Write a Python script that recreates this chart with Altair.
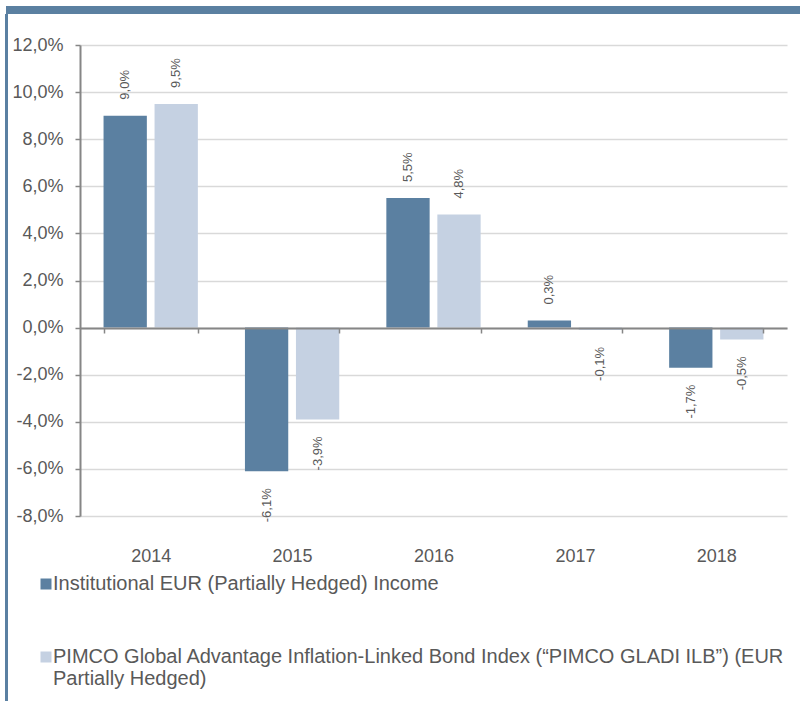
import altair as alt
import pandas as pd

years = ["2014", "2015", "2016", "2017", "2018"]
fund = [9.0, -6.1, 5.5, 0.3, -1.7]
bench = [9.5, -3.9, 4.8, -0.1, -0.5]
s1 = "Institutional EUR (Partially Hedged) Income"
s2 = "PIMCO Global Advantage Inflation-Linked Bond Index (\u201cPIMCO GLADI ILB\u201d) (EUR Partially Hedged)"
s2_line1 = "PIMCO Global Advantage Inflation-Linked Bond Index (\u201cPIMCO GLADI ILB\u201d) (EUR"
s2_line2 = "Partially Hedged)"

rows = []
for y, a, b in zip(years, fund, bench):
    rows.append({"year": y, "series": s1, "value": a})
    rows.append({"year": y, "series": s2, "value": b})
df = pd.DataFrame(rows)

FONT = "Liberation Sans"
GREY = "#595959"
AXIS = "#868686"
DARK = "#5B80A1"
LIGHT = "#C5D1E2"

lab_expr = "(datum.value < 0 ? '-' : '') + replace(format(abs(datum.value), '.1f'), '.', ',') + '%'"

base = alt.Chart(df)

x_enc = alt.X(
    "year:N",
    sort=years,
    scale=alt.Scale(paddingInner=0.333, paddingOuter=0.1665),
    axis=alt.Axis(
        title=None, orient="bottom", offset=-188, domainColor=AXIS, domainWidth=2,
        tickColor=AXIS, tickWidth=1.5, tickSize=5, tickBand="extent",
        labelPadding=214, labelFont=FONT, labelFontSize=18, labelColor=GREY,
        labelAngle=0, zindex=1, grid=False,
    ),
)
xo_enc = alt.XOffset("series:N", sort=[s1, s2], scale=alt.Scale(paddingInner=0.151, paddingOuter=0))
y_enc = alt.Y(
    "value:Q",
    scale=alt.Scale(domain=[-8, 12], nice=False, zero=False),
    axis=alt.Axis(
        title=None, values=[-8, -6, -4, -2, 0, 2, 4, 6, 8, 10, 12],
        labelExpr="(datum.value < 0 ? '-' : '') + replace(format(abs(datum.value), '.1f'), '.', ',') + '%'",
        domainColor=AXIS, domainWidth=2, tickColor=AXIS, tickWidth=1.5, tickSize=5,
        labelPadding=12, labelFont=FONT, labelFontSize=18, labelColor=GREY,
        gridColor="#D9D9D9", gridWidth=1.5,
    ),
)

bars = base.mark_bar().encode(
    x=x_enc,
    xOffset=xo_enc,
    y=y_enc,
    color=alt.Color(
        "series:N",
        sort=[s1, s2],
        scale=alt.Scale(domain=[s1, s2], range=[DARK, LIGHT]),
        legend=alt.Legend(
            title=None, orient="none", legendX=-44, legendY=529, direction="vertical",
            symbolType="square", symbolSize=121, symbolStrokeWidth=0,
            labelFont=FONT, labelFontSize=20, labelColor=GREY, labelLimit=800,
            labelOffset={"expr": "-3"}, rowPadding=53,
            labelExpr=f"datum.label == '{s1}' ? datum.label : ['{s2_line1}', '{s2_line2}']",
        ),
    ),
)

text_common = dict(angle=270, baseline="middle", font=FONT, fontSize=13, color=GREY)

pos_text = base.transform_filter("datum.value >= 0").transform_calculate(lab=lab_expr).mark_text(
    align="left", dx=16, **text_common
).encode(x=alt.X("year:N", sort=years), xOffset=alt.XOffset("series:N", sort=[s1, s2]), y="value:Q", text="lab:N")

neg_text = base.transform_filter("datum.value < 0").transform_calculate(lab=lab_expr).mark_text(
    align="right", dx=-17, **text_common
).encode(x=alt.X("year:N", sort=years), xOffset=alt.XOffset("series:N", sort=[s1, s2]), y="value:Q", text="lab:N")

frame_top = base.mark_rule(color=DARK, strokeWidth=8).encode(
    x=alt.value(-74), x2=alt.value(720), y=alt.value(-35)
)
frame_left = base.mark_rule(color=DARK, strokeWidth=2).encode(
    x=alt.value(-73.5), y=alt.value(-31), y2=alt.value(660)
)

chart = alt.layer(bars, pos_text, neg_text, frame_top, frame_left).properties(
    width=707, height=471,
    autosize=alt.AutoSizeParams(type="none"),
    padding={"left": 80, "top": 45, "right": 13, "bottom": 185},
).configure_view(stroke=None)

chart.save("out.html", embed_options={"renderer": "svg", "actions": False})
